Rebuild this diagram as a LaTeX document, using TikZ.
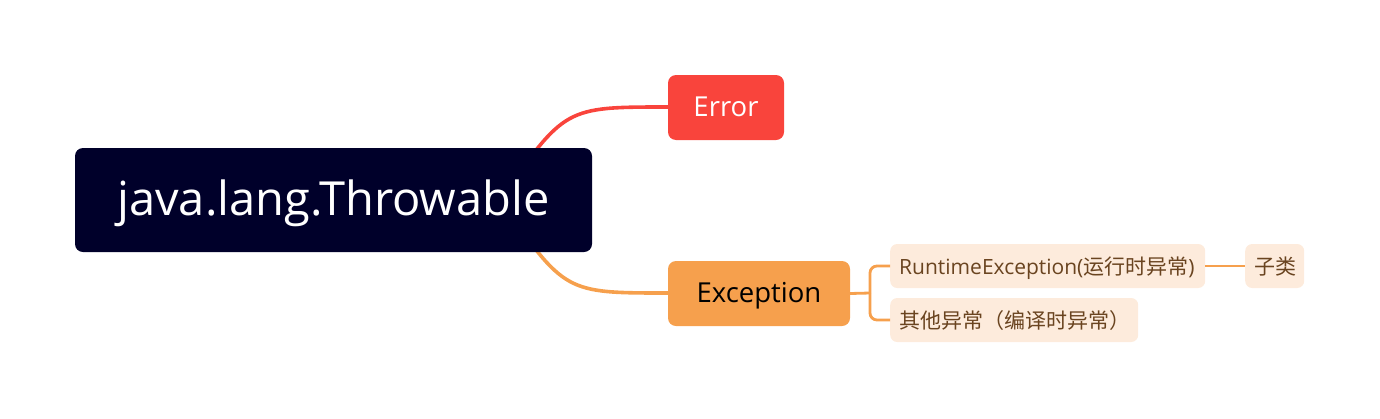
\documentclass[tikz,border=0pt]{standalone}
\usepackage{fontspec}
\setmainfont{Open Sans}
\newfontfamily\cjk{Noto Sans CJK SC}
\definecolor{rootc}{HTML}{00002A}
\definecolor{errc}{HTML}{F9443C}
\definecolor{excc}{HTML}{F6A04D}
\definecolor{subfill}{HTML}{FDEBDC}
\definecolor{subtext}{HTML}{6A4420}
\begin{document}
\begin{tikzpicture}[x=1pt,y=-1pt,
  box/.style={rounded corners=8pt, inner sep=0pt, anchor=center},
  mainbox/.style={box, minimum height=65pt, font=\fontsize{27.5}{32}\selectfont, text height=19pt, text depth=2pt},
  subbox/.style={rounded corners=7pt, fill=subfill, text=subtext, font=\fontsize{21}{23}\selectfont,
    anchor=west, inner xsep=9pt, inner ysep=0pt, minimum height=44pt, text height=16pt, text depth=0pt, align=left},
  mainline/.style={line width=3.6pt},
  subline/.style={line width=2.8pt, draw=excc, rounded corners=7pt}]
\useasboundingbox (0,0) rectangle (1380,418);
% connectors (behind)
\coordinate (rs1) at (500,200);
\coordinate (rs2) at (500,200);
\draw[mainline, errc] (rs1) .. controls (565,107) .. (668,107);
\draw[mainline, excc] (rs2) .. controls (565,293) .. (668,293);
% root
\node[box, fill=rootc, text=white, minimum width=517pt, minimum height=104pt,
  font=\fontsize{47}{52}\selectfont, text height=34pt, text depth=4pt] (root) at (333.5,200) {java.lang.Throwable};
\node[mainbox, fill=errc, text=white, minimum width=116pt] (err) at (726,107.5) {Error};
\node[mainbox, fill=excc, text=black, minimum width=182pt] (exc) at (759,293.5) {Exception};
\node[subbox, text width=297pt] (rt) at (890,266) {RuntimeException({\cjk 运行时异常})};
\node[subbox, text width=41pt] (sub) at (1245,266) {\cjk 子类};
\node[subbox, text width=230pt] (oth) at (890,320) {\cjk 其他异常（编译时异常）};
\coordinate (br) at (870,293);
\draw[subline] (exc.east) -- (br);
\draw[subline] (br) |- (rt.west);
\draw[subline] (br) |- (oth.west);
\draw[line width=2.8pt, draw=excc] (rt.east) -- (sub.west);
\end{tikzpicture}
\end{document}
